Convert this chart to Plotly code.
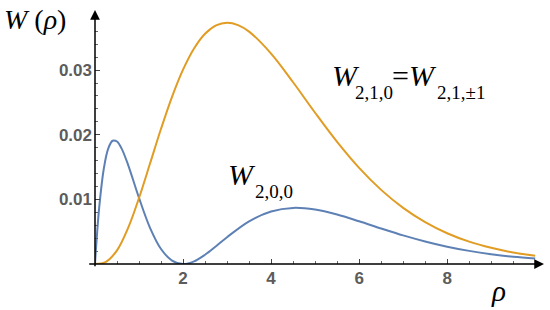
import plotly.graph_objects as go

# Values
rho_200 = [0, 0.02, 0.05, 0.1, 0.2, 0.3, 0.4, 0.5, 0.6, 0.75, 1.0, 1.25, 1.5, 1.75, 2.0,
           2.25, 2.5, 2.75, 3.0, 3.5, 4.0, 4.5, 5.0, 5.5, 6.0, 6.5, 7.0, 7.5, 8.0, 8.5,
           9.0, 9.5, 10.0]
w_200 = [0, 0.00213, 0.00502, 0.00907, 0.01474, 0.01784, 0.01907, 0.01895, 0.01793,
         0.01538, 0.01022, 0.00560, 0.00232, 0.00053, 0.0, 0.00041, 0.00143, 0.00275,
         0.00415, 0.00661, 0.00813, 0.00868, 0.00842, 0.00765, 0.00661, 0.00550, 0.00443,
         0.00349, 0.00268, 0.00203, 0.00151, 0.00111, 0.00085]

rho_210 = [0, 0.25, 0.5, 0.75, 1.0, 1.25, 1.5, 1.75, 2.0, 2.25, 2.5, 2.75, 3.0, 3.25, 3.5,
           4.0, 4.5, 5.0, 5.5, 6.0, 6.5, 7.0, 7.5, 8.0, 8.5, 9.0, 9.5, 10.0]
w_210 = [0, 0.00034, 0.00211, 0.00554, 0.01022, 0.01554, 0.02092, 0.02587, 0.03007,
         0.03335, 0.03563, 0.03692, 0.03734, 0.03697, 0.03596, 0.03256, 0.02812, 0.02340,
         0.01889, 0.01487, 0.01147, 0.00869, 0.00648, 0.00476, 0.00346, 0.00250, 0.00178,
         0.00128]

x_ticks = [2, 4, 6, 8]
x_tick_text = ["2", "4", "6", "8"]
y_ticks = [0.01, 0.02, 0.03]
y_tick_text = ["0.01", "0.02", "0.03"]

BLUE = "#5E81B5"
ORANGE = "#E19C24"

# plot-area geometry (pixels)
L, R, T, B = 95, 6, 10, 46
PW, PH = 550 - L - R, 310 - T - B


def px(xp):
    return (xp - L) / PW


def py(yp):
    return (310 - B - yp) / PH


fig = go.Figure()
fig.add_trace(go.Scatter(x=rho_200, y=w_200, mode="lines",
                         line=dict(color=BLUE, width=2, shape="spline", smoothing=1.0),
                         cliponaxis=False, showlegend=False, hoverinfo="skip"))
fig.add_trace(go.Scatter(x=rho_210, y=w_210, mode="lines",
                         line=dict(color=ORANGE, width=2, shape="spline", smoothing=1.0),
                         cliponaxis=False, showlegend=False, hoverinfo="skip"))

tickfont = dict(family="Liberation Sans Narrow, Arial Narrow, Liberation Sans, sans-serif",
                size=17, color="#5c5c5c", weight="bold")

fig.update_layout(
    width=550, height=310,
    margin=dict(l=L, r=R, t=T, b=B, autoexpand=False),
    paper_bgcolor="white", plot_bgcolor="white",
    xaxis=dict(range=[0, 10.2], showgrid=False, zeroline=False, showline=False,
               automargin=False,
               tickmode="array", tickvals=x_ticks, ticktext=x_tick_text,
               ticks="inside", ticklen=5, tickwidth=1, tickcolor="#444",
               tickfont=tickfont, ticklabelstandoff=2,
               minor=dict(tickmode="linear", tick0=0, dtick=0.5, ticks="inside",
                          ticklen=3, tickwidth=1, tickcolor="#666", showgrid=False)),
    yaxis=dict(range=[0, 0.0393], showgrid=False, zeroline=False, showline=False,
               automargin=False,
               tickmode="array", tickvals=y_ticks, ticktext=y_tick_text,
               ticks="inside", ticklen=5, tickwidth=1, tickcolor="#444",
               tickfont=tickfont, ticklabelstandoff=2,
               minor=dict(tickmode="linear", tick0=0, dtick=0.002, ticks="inside",
                          ticklen=3, tickwidth=1, tickcolor="#666", showgrid=False)),
)

# axes with arrows (Mathematica style)
fig.add_annotation(x=10.2, y=0, ax=-0.2, ay=0, xref="x", yref="y", axref="x", ayref="y",
                   text=" ", showarrow=True, arrowhead=2, arrowsize=1.3, arrowwidth=1.5,
                   arrowcolor="black", standoff=0)
fig.add_annotation(x=0, y=0.0393, ax=0, ay=-0.0019, xref="x", yref="y", axref="x", ayref="y",
                   text=" ", showarrow=True, arrowhead=2, arrowsize=1.3, arrowwidth=1.5,
                   arrowcolor="black", standoff=0)

serif = "Liberation Serif, Times New Roman, DejaVu Serif, serif"


def label(text, xl, yc, size, yanchor="middle"):
    fig.add_annotation(x=px(xl), y=py(yc), xref="paper", yref="paper",
                       xanchor="left", yanchor=yanchor, showarrow=False,
                       text=text, font=dict(family=serif, size=size, color="black"))


label("<i>W</i> (<i>ρ</i>)", 2, 19, 28)
label("<i>ρ</i>", 489, 309, 29, yanchor="bottom")
# W_{2,1,0} = W_{2,1,±1}
label("<i>W</i>", 330, 75, 30)
label("2,1,0", 353, 92, 19)
label("=<i>W</i>", 390, 75, 30)
label("2,1,±1", 435, 92, 19)
# W_{2,0,0}
label("<i>W</i>", 226, 174, 30)
label("2,0,0", 253, 191, 19)

fig.write_html("out.html", config={"displayModeBar": False},
               post_script="document.body.style.margin='0';document.body.style.padding='0';")
